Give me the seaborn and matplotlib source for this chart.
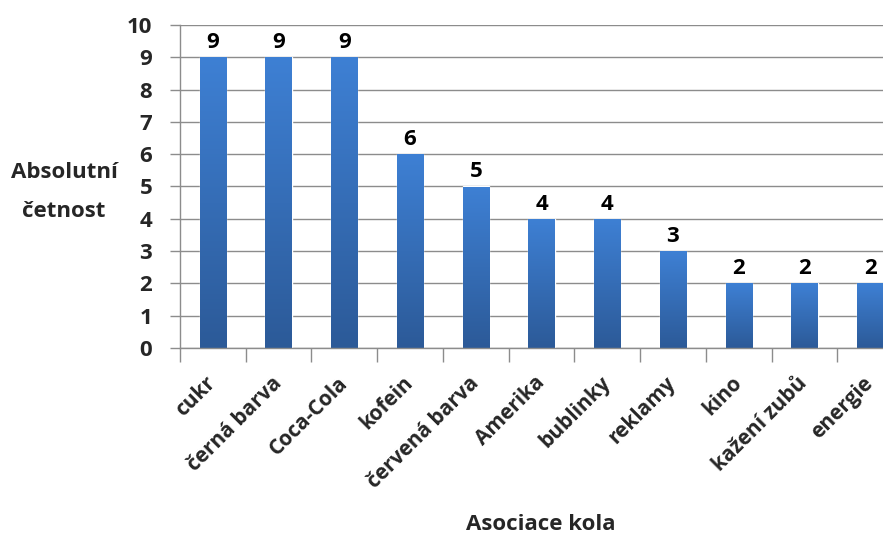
import numpy as np
import pandas as pd
import seaborn as sns
import matplotlib.pyplot as plt
from matplotlib.colors import LinearSegmentedColormap

sns.set_theme(style="white")
plt.rcParams['font.family'] = ['Open Sans', 'DejaVu Sans']
plt.rcParams['font.weight'] = 'bold'

asociace = ["cukr", "černá barva", "Coca-Cola", "kofein", "červená barva",
            "Amerika", "bublinky", "reklamy", "kino", "kažení zubů", "energie"]
cetnost = [9, 9, 9, 6, 5, 4, 4, 3, 2, 2, 2]

df = pd.DataFrame({"Asociace": asociace, "Cetnost": cetnost})

fig = plt.figure(figsize=(8.83, 5.34), dpi=100)
ax = fig.add_axes([180 / 883, 186 / 534, 723 / 883, 323 / 534])

sns.barplot(data=df, x="Asociace", y="Cetnost", color="#3570BC", width=0.4,
            saturation=1, ax=ax)

# gradient fill for bars (lighter top, darker bottom)
grad_cmap = LinearSegmentedColormap.from_list("bar", ["#2C5A98", "#3E80D4"])
gradient = np.linspace(0, 1, 256).reshape(-1, 1)
for p in ax.patches:
    x0, y0 = p.get_x(), p.get_y()
    w, h = p.get_width(), p.get_height()
    im = ax.imshow(gradient, cmap=grad_cmap, aspect="auto", origin="lower",
                   extent=[x0, x0 + w, y0, y0 + h], zorder=2)
    im.set_clip_path(p)

ax.set_xlim(-0.5, len(asociace) - 0.5)
ax.set_ylim(0, 10)
ax.set_yticks(range(0, 11))

ax.bar_label(ax.containers[0], labels=[str(v) for v in cetnost], padding=3,
             fontsize=16, fontweight="bold", color="black")

ax.yaxis.grid(True, color="#8C8C8C", linewidth=1)
ax.set_axisbelow(True)
for s in ["top", "right"]:
    ax.spines[s].set_visible(False)
for s in ["left", "bottom"]:
    ax.spines[s].set_color("#8C8C8C")
    ax.spines[s].set_linewidth(1)

ax.tick_params(axis="y", length=7, width=1, color="#8C8C8C", labelsize=16,
               pad=13, left=True)
ax.set_yticklabels([str(i) for i in range(11)], fontweight="bold")

# category boundary ticks on x axis
ax.set_xticks(np.arange(-0.5, len(asociace), 1), minor=True)
ax.tick_params(axis="x", which="minor", length=10, width=1, color="#8C8C8C",
               bottom=True)
ax.tick_params(axis="x", which="major", length=0, pad=23, labelsize=15)
ax.set_xticks(range(len(asociace)))
ax.set_xticklabels(asociace, rotation=45, ha="right", va="center",
                   rotation_mode="anchor", fontweight="bold")

ax.set_xlabel("")
ax.set_ylabel("")
fig.text(64 / 883, 1 - 192 / 534, "Absolutní\nčetnost", ha="center", va="center",
         fontsize=16, fontweight="bold", linespacing=2.1)
fig.text(541 / 883, 1 - 524 / 534, "Asociace kola", ha="center", va="center",
         fontsize=16, fontweight="bold")

fig.savefig("out.png", dpi=100)
